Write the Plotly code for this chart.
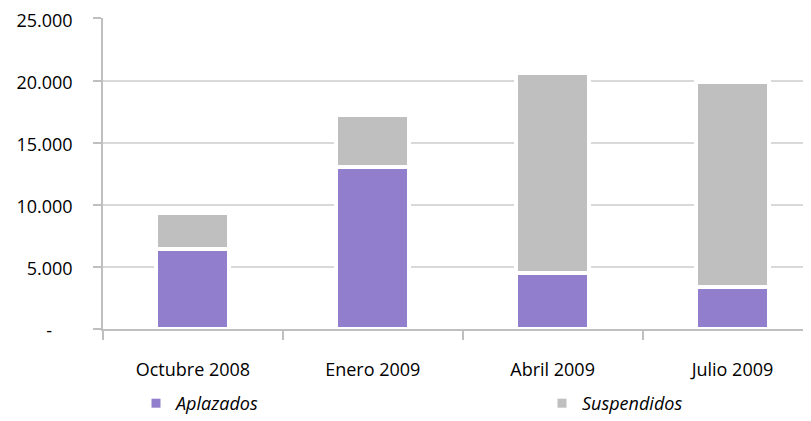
import plotly.graph_objects as go

categories = ["Octubre 2008", "Enero 2009", "Abril 2009", "Julio 2009"]
aplazados = [6400, 13000, 4500, 3400]
suspendidos = [2950, 4200, 16100, 16450]
series_names = ["Aplazados", "Suspendidos"]
tick_vals = [0, 5000, 10000, 15000, 20000, 25000]
tick_text = ["-\u2007\u2007", "5.000", "10.000", "15.000", "20.000", "25.000"]

purple = "#917ECC"
grey = "#BFBFBF"
font_family = "Open Sans"

fig = go.Figure()
for name, vals, col in [(series_names[0], aplazados, purple), (series_names[1], suspendidos, grey)]:
    fig.add_trace(go.Bar(
        x=categories, y=vals, name=name, width=0.406,
        marker=dict(color=col, line=dict(color="white", width=4)),
        showlegend=False,
    ))
for name, col, lg in [(series_names[0], purple, "legend"), (series_names[1], grey, "legend2")]:
    fig.add_trace(go.Scatter(
        x=[None], y=[None], mode="markers", name=name, legend=lg,
        marker=dict(symbol="square", size=9, color=col),
    ))

legend_common = dict(
    orientation="h", xref="container", yref="container",
    xanchor="left", yanchor="middle",
    font=dict(family=font_family, size=18, style="italic"),
    bgcolor="rgba(0,0,0,0)",
)

fig.update_layout(
    width=811, height=421,
    barmode="stack",
    plot_bgcolor="white", paper_bgcolor="white",
    margin=dict(l=95, r=11, t=10, b=100, autoexpand=False),
    font=dict(family=font_family, size=18, color="#000000"),
    legend=dict(x=128 / 811, y=25.5 / 421, **legend_common),
    legend2=dict(x=534 / 811, y=25.5 / 421, **legend_common),
    xaxis=dict(
        range=[-0.5, 3.42], showline=True, linecolor="#BFBFBF", linewidth=1.5,
        ticks="outside", tickson="boundaries", ticklen=9, tickcolor="#BFBFBF",
        tickwidth=1.5, showgrid=False, ticklabelstandoff=24,
        tickfont=dict(size=18), automargin=False,
    ),
    yaxis=dict(
        range=[0, 25030], tickvals=tick_vals, ticktext=tick_text,
        showline=True, linecolor="#BFBFBF", linewidth=1.5,
        ticks="outside", ticklen=8, tickcolor="#BFBFBF", tickwidth=1.5,
        showgrid=True, gridcolor="#D9D9D9", gridwidth=1.5,
        zeroline=False, ticklabelstandoff=17, ticklabeloverflow="allow",
        ticklabelshift=2,
        tickfont=dict(size=18), automargin=False,
    ),
)

fig.write_html("out.html")
